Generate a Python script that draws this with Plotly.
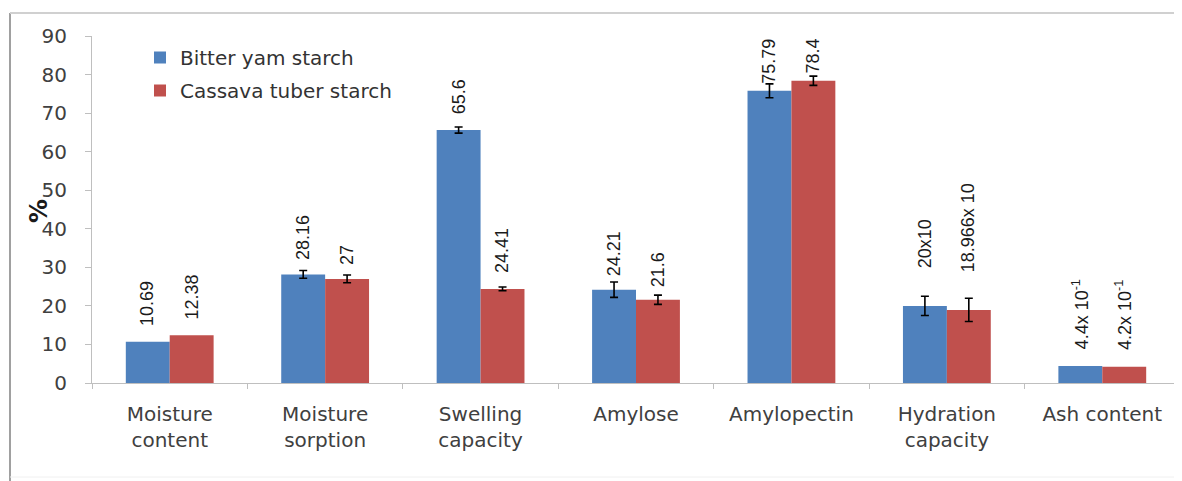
import plotly.graph_objects as go

categories = ["Moisture<br>content", "Moisture<br>sorption", "Swelling<br>capacity", "Amylose",
              "Amylopectin", "Hydration<br>capacity", "Ash content"]
series_names = ["Bitter yam starch", "Cassava tuber starch"]
bitter_yam = [10.69, 28.16, 65.6, 24.21, 75.79, 20.0, 4.4]
cassava = [12.38, 27.0, 24.41, 21.6, 78.4, 18.966, 4.2]
bitter_err = [None, 1.0, 0.8, 2.0, 1.8, 2.5, None]
cassava_err = [None, 1.0, 0.5, 1.2, 1.2, 3.0, None]
bitter_labels = ["10.69", "28.16", "65.6", "24.21", "75.79", "20x10", "4.4x 10<sup>-1</sup>"]
cassava_labels = ["12.38", "27", "24.41", "21.6", "78.4", "18.966x 10", "4.2x 10<sup>-1</sup>"]
y_ticks = [0, 10, 20, 30, 40, 50, 60, 70, 80, 90]

# style: pixel gap between bar top and its value label
label_gap = [14, 12, 14, 11, 5, 36, 15]

BLUE = "#4F81BD"
RED = "#C0504D"
AXIS = "#BFBFBF"
TXT = "#404040"

# page has an 8px body margin; work in page pixels and convert
OFF = 8
PAGE_W, PAGE_H = 1182, 481
W, H = PAGE_W - OFF, PAGE_H - OFF
plot_left, plot_right, plot_top, plot_bottom = 92, 1180, 36, 383  # page px
L = plot_left - OFF
R = W - (plot_right - OFF)
T = plot_top - OFF
B = H - (plot_bottom - OFF)
plot_w = plot_right - plot_left
plot_h = plot_bottom - plot_top


def px_x(px):
    return (px - plot_left) / plot_w


def px_y(py):
    return (plot_bottom - py) / plot_h


def err_array(errs):
    # missing error -> non-numeric so plotly.js skips the error bar entirely
    return [e if e is not None else "NaN" for e in errs]


fig = go.Figure()
for name, vals, errs, col in [(series_names[0], bitter_yam, bitter_err, BLUE),
                              (series_names[1], cassava, cassava_err, RED)]:
    fig.add_trace(go.Bar(
        name=name, x=categories, y=vals, marker_color=col, marker_line_width=0,
        legendgroup=name,
        error_y=dict(type="data", array=err_array(errs), visible=True, color="black",
                     thickness=1.6, width=4),
    ))

cat_px = plot_w / len(categories)
bargap = 0.435
bar_px = cat_px * (1 - bargap) / 2

annotations = []
for vals, labels, sign in [(bitter_yam, bitter_labels, -1), (cassava, cassava_labels, 1)]:
    for i, (c, v, t) in enumerate(zip(categories, vals, labels)):
        annotations.append(dict(
            x=c, y=v, xref="x", yref="y", text=t, showarrow=False, textangle=-90,
            xanchor="center", yanchor="bottom", xshift=sign * bar_px / 2,
            yshift=label_gap[i],
            font=dict(family="Liberation Sans", size=18, color="#1a1a1a"),
        ))

annotations.append(dict(
    x=px_x(39), y=px_y(211), xref="paper", yref="paper", xanchor="center", yanchor="middle",
    text="<b>%</b>", showarrow=False, textangle=-90,
    font=dict(family="DejaVu Sans", size=24, color="#1a1a1a"),
))

shapes = [
    dict(type="line", xref="paper", yref="paper",
         x0=px_x(10), x1=px_x(10), y0=px_y(13), y1=px_y(481),
         line=dict(color="#A0A0A0", width=2)),
    dict(type="line", xref="paper", yref="paper",
         x0=px_x(10), x1=px_x(1182), y0=px_y(13), y1=px_y(13),
         line=dict(color="#D0D0D0", width=2)),
    dict(type="line", xref="paper", yref="paper",
         x0=px_x(10), x1=px_x(1182), y0=px_y(477), y1=px_y(477),
         line=dict(color="#F0F0F0", width=1)),
]

fig.update_layout(
    width=W, height=H,
    margin=dict(l=L, r=R, t=T, b=B),
    paper_bgcolor="white", plot_bgcolor="white",
    barmode="group", bargap=bargap, bargroupgap=0,
    font=dict(family="DejaVu Sans", size=20, color=TXT),
    showlegend=True,
    legend=dict(x=px_x(140), y=px_y(38), xanchor="left", yanchor="top",
                bgcolor="rgba(0,0,0,0)", font=dict(size=20, color="#333333"),
                traceorder="grouped", tracegroupgap=4, itemwidth=30),
    annotations=annotations,
    shapes=shapes,
    xaxis=dict(showline=True, linecolor=AXIS, linewidth=1, ticks="outside",
               tickson="boundaries", ticklen=5, tickcolor=AXIS,
               tickfont=dict(family="DejaVu Sans", size=20, color=TXT),
               ticklabelstandoff=13, showgrid=False),
    yaxis=dict(range=[0, 90], tickvals=y_ticks, showline=True, linecolor=AXIS, linewidth=1,
               ticks="outside", ticklen=6, tickcolor=AXIS, showgrid=False, zeroline=False,
               tickfont=dict(family="DejaVu Sans", size=20, color=TXT),
               ticklabelstandoff=14),
)

fig.write_html("out.html")
